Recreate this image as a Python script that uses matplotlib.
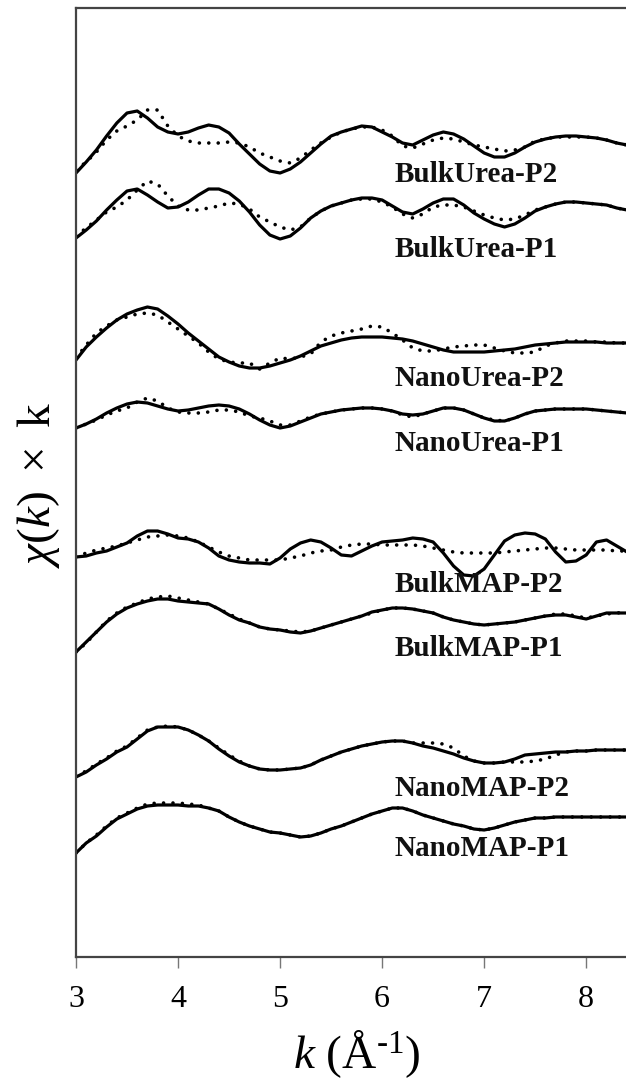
import numpy as np
import matplotlib
matplotlib.use("Agg")
import matplotlib.pyplot as plt

plt.rcParams["font.family"] = ["Liberation Serif", "DejaVu Serif"]
plt.rcParams["mathtext.fontset"] = "custom"
plt.rcParams["mathtext.rm"] = "Liberation Serif"
plt.rcParams["mathtext.it"] = "Liberation Serif:italic"
plt.rcParams["mathtext.bf"] = "Liberation Serif:bold"

# wavenumber grid (Å^-1)
k = np.linspace(3.0, 8.4, 55)

# stacked chi(k)*k spectra (arbitrary units, offsets included): fit (solid) and data (dotted)
bulkurea_p2_fit = [827,838,850,864,877,887,889,882,873,868,
                   866,868,872,875,873,867,856,846,836,829,
                   827,831,838,847,856,864,868,871,874,873,
                   868,863,857,855,860,865,868,866,861,854,
                   847,843,843,847,853,858,861,863,864,864,
                   863,862,860,857,855]
bulkurea_p2_data = [830,838,848,860,869,874,880,890,890,874,
                    864,859,857,857,857,858,857,853,847,843,
                    839,837,842,850,857,863,868,871,873,873,
                    870,864,854,852,856,860,862,861,858,855,
                    853,851,849,850,853,859,861,863,863,863,
                    863,862,860,857,855]
bulkurea_p1_fit = [762,770,779,790,800,809,811,805,798,792,
                   793,798,805,811,811,807,799,788,775,765,
                   761,764,772,782,789,794,797,800,802,802,
                   800,794,788,786,791,797,801,801,795,787,
                   781,776,773,776,782,789,793,796,798,798,
                   797,796,795,792,790]
bulkurea_p1_data = [764,772,780,788,793,800,810,819,816,804,
                    794,790,790,792,794,797,796,791,783,778,
                    773,770,773,782,789,794,797,800,801,801,
                    798,793,786,782,786,793,795,795,793,789,
                    785,782,780,781,785,790,793,796,798,798,
                    797,796,795,792,790]
nanourea_p2_fit = [640,653,663,672,680,686,690,693,691,684,
                   676,667,659,651,643,638,634,632,632,634,
                   637,640,644,649,654,657,660,662,663,663,
                   663,662,661,659,656,653,650,648,648,648,
                   648,649,650,651,653,655,656,657,658,658,
                   658,658,657,657,657]
nanourea_p2_data = [642,655,667,674,680,683,686,687,685,678,
                    671,664,657,648,641,638,637,637,631,637,
                    642,641,643,646,658,664,667,669,671,674,
                    673,667,660,652,649,649,651,653,654,655,
                    655,652,649,647,647,648,654,657,659,659,
                    659,658,658,657,657]
nanourea_p1_fit = [572,576,581,587,592,596,598,597,594,591,
                   589,590,592,594,595,594,591,586,580,575,
                   572,574,578,582,586,588,590,591,592,592,
                   591,589,586,585,586,589,592,592,590,586,
                   582,579,579,582,586,589,590,591,591,591,
                   591,590,589,588,587]
nanourea_p1_data = [572,576,580,585,589,592,598,602,599,592,
                    588,587,587,588,590,590,588,584,582,579,
                    575,575,579,583,586,588,590,591,592,592,
                    591,589,585,583,586,589,592,592,590,586,
                    582,580,579,582,586,589,590,591,591,591,
                    591,590,589,588,587]
bulkmap_p2_fit = [443,444,447,449,453,457,464,469,469,466,
                  462,461,458,452,444,440,438,437,437,436,
                  442,451,457,460,458,452,445,444,449,454,
                  458,459,460,462,461,458,447,434,425,424,
                  431,445,459,465,467,466,461,448,438,439,
                  445,458,460,454,448]
bulkmap_p2_data = [443,447,450,452,454,457,460,463,464,465,
                   464,462,458,453,448,444,442,440,440,440,
                   440,442,444,447,449,450,453,455,456,456,
                   455,455,455,455,454,452,450,448,447,447,
                   447,447,448,449,450,451,452,452,451,450,
                   450,450,450,449,449]
bulkmap_p1_fit = [348,358,368,378,386,392,396,399,401,401,
                  399,398,397,396,391,385,380,377,373,371,
                  370,368,367,369,372,375,378,381,384,388,
                  390,392,392,391,389,387,383,380,378,376,
                  375,376,377,378,380,382,384,385,385,383,
                  381,384,387,387,387]
bulkmap_p1_data = [348,357,368,379,387,393,397,401,403,404,
                   402,400,398,396,391,386,381,377,373,371,
                   370,369,368,369,372,375,378,381,384,387,
                   390,392,392,391,389,387,383,380,378,376,
                   375,376,377,378,380,382,384,386,386,384,
                   382,384,386,387,388]
nanomap_p2_fit = [223,228,235,241,248,253,261,269,273,273,
                  273,270,265,259,251,244,238,234,231,230,
                  230,231,232,235,240,244,248,251,254,256,
                  258,259,259,257,254,252,249,246,242,239,
                  237,237,238,241,245,246,247,248,248,249,
                  249,250,250,250,250]
nanomap_p2_data = [224,229,236,242,249,254,262,270,273,274,
                   273,270,265,259,252,245,239,234,231,230,
                   230,231,232,235,240,244,248,251,254,256,
                   258,259,259,257,257,257,256,252,244,239,
                   237,237,238,238,238,239,241,245,248,249,
                   249,250,250,250,250]
nanomap_p1_fit = [147,157,164,173,181,186,191,194,195,195,
                  195,194,194,192,189,183,178,174,171,168,
                  167,165,163,164,167,171,174,178,182,186,
                  189,192,192,189,185,182,179,176,174,171,
                  170,172,175,178,180,182,182,183,183,183,
                  183,183,183,183,183]
nanomap_p1_data = [147,157,165,174,182,187,192,196,197,197,
                   197,196,195,192,189,183,178,174,171,168,
                   167,165,163,164,167,171,174,178,182,186,
                   189,192,192,189,185,182,179,176,174,171,
                   170,172,175,178,180,182,182,183,183,183,
                   183,183,183,183,183]

sample_names = ["BulkUrea-P2", "BulkUrea-P1", "NanoUrea-P2", "NanoUrea-P1",
                "BulkMAP-P2", "BulkMAP-P1", "NanoMAP-P2", "NanoMAP-P1"]
fits = [bulkurea_p2_fit, bulkurea_p1_fit, nanourea_p2_fit, nanourea_p1_fit,
        bulkmap_p2_fit, bulkmap_p1_fit, nanomap_p2_fit, nanomap_p1_fit]
datas = [bulkurea_p2_data, bulkurea_p1_data, nanourea_p2_data, nanourea_p1_data,
         bulkmap_p2_data, bulkmap_p1_data, nanomap_p2_data, nanomap_p1_data]
label_y = [818, 743, 614, 549, 408, 344, 204, 144]
label_x = 6.12

xticks = [3, 4, 5, 6, 7, 8]

fig = plt.figure(figsize=(6.26, 10.8), dpi=100)
ax = fig.add_axes([76 / 626, 123 / 1080, 551 / 626, 949 / 1080])

for name, fit, dat, ly in zip(sample_names, fits, datas, label_y):
    ax.plot(k, dat, color="black", lw=2.6, linestyle=(0, (0.01, 2.6)),
            dash_capstyle="round", solid_capstyle="round")
    ax.plot(k, fit, color="black", lw=2.3, solid_joinstyle="round")
    ax.text(label_x, ly, name, fontsize=21, fontweight="bold", ha="left",
            va="baseline", color="#111111")

ax.set_xlim(3, 8.4)
ax.set_ylim(43, 992)
ax.set_xticks(xticks)
ax.set_xticklabels([str(t) for t in xticks])
ax.set_yticks([])
ax.tick_params(axis="x", direction="out", length=8, width=1, color="#777777",
               labelsize=23, pad=12)
for s in ["left", "top", "bottom"]:
    ax.spines[s].set_linewidth(1.6)
    ax.spines[s].set_color("#444444")
ax.spines["right"].set_visible(False)

ax.set_xlabel(r"$k$ (Å$^{\text{-1}}$)", fontsize=34)
ax.xaxis.set_label_coords(0.509, -0.075)
ax.set_ylabel(r"$χ(k)\mathrm{\ \times\ k}$", fontsize=34)
ax.yaxis.label.set(verticalalignment="center", horizontalalignment="center",
                   rotation_mode="default")
ax.yaxis.set_label_coords(-0.068, 0.497)

fig.savefig("out.png", dpi=100)
